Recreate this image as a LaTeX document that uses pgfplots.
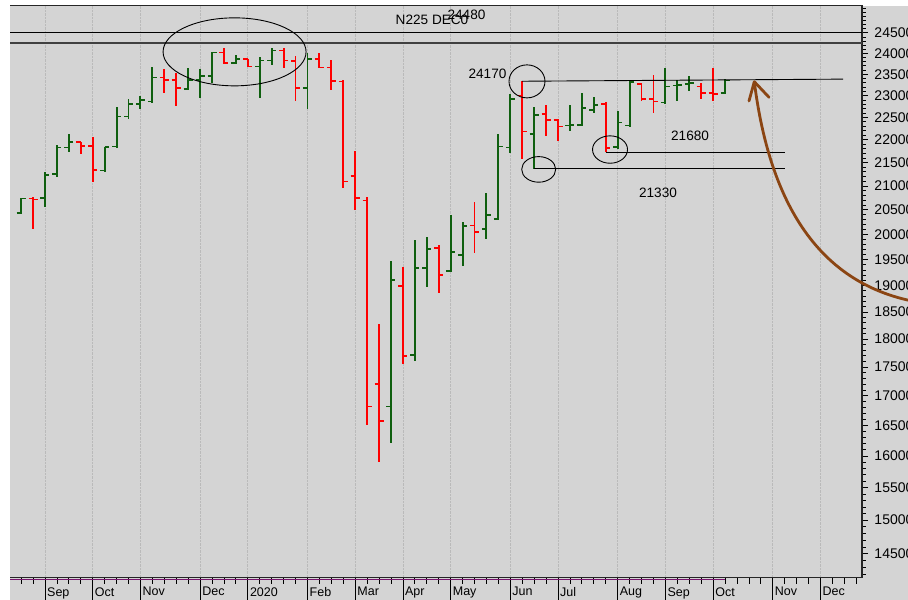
\documentclass[border=0pt]{standalone}
\usepackage{fontspec}
\setmainfont{Liberation Sans}
\usepackage{pgfplots}
\usepackage{pgfplotstable}
\pgfplotsset{compat=1.18}

\definecolor{bg}{RGB}{212,212,212}
\definecolor{barred}{RGB}{255,0,0}
\definecolor{bargreen}{RGB}{15,95,15}
\definecolor{gridc}{RGB}{186,186,186}
\definecolor{arrowbrown}{RGB}{139,69,19}
\definecolor{rail}{RGB}{120,20,110}

% open tick to the left, close tick to the right
\pgfdeclareplotmark{otick}{\pgfpathmoveto{\pgfpoint{-4.5bp}{0pt}}\pgfpathlineto{\pgfpoint{0pt}{0pt}}\pgfusepathqstroke}
\pgfdeclareplotmark{ctick}{\pgfpathmoveto{\pgfpoint{0pt}{0pt}}\pgfpathlineto{\pgfpoint{4.5bp}{0pt}}\pgfusepathqstroke}

% weekly bars, i = week index (3 = first week of Sep 2019)
\pgfplotstableread{
i O H L C
0 20520 20560 20380 20430
2 20735 20764 20112 20714
6 21947 21960 21689 21865
7 21865 22070 21093 21342
13 23422 23628 23056 23367
14 23367 23540 22770 23173
18 24019 24125 23740 23764
20 23860 23867 23668 23682
23 24067 24140 23644 23826
24 23819 23939 22878 23173
26 23867 24004 23644 23659
27 23659 23843 23133 23344
28 23327 23367 20953 21093
29 21214 21755 20500 20743
30 20693 20777 16510 16817
31 17206 18272 15906 16576
33 18995 19351 17550 17698
36 19736 19790 18862 19207
39 20178 20660 19637 20051
43 23001 23351 21587 22182
45 22581 22786 22086 22445
46 22445 22461 21975 22294
50 22803 22862 21730 21814
53 23266 23285 22885 22924
54 22918 23485 22611 22862
58 23210 23290 22918 23056
59 23056 23659 22878 23033
}\redbars

\pgfplotstableread{
i O H L C
1 20440 20745 20425 20740
3 20743 21306 20556 21235
4 21257 21887 21186 21827
5 21827 22131 21740 21947
8 21327 21849 21306 21836
9 21849 22734 21840 22520
10 22520 22918 22461 22810
11 22810 23001 22695 22902
12 22862 23682 22848 23422
15 23150 23659 23133 23367
16 23367 23620 22955 23462
17 23462 24043 23304 24019
19 23764 23963 23740 23860
21 23682 23922 22955 23826
22 23826 24125 23723 24067
25 23173 24019 22695 23867
32 16817 19480 16208 19105
34 17710 19884 17609 19343
35 19343 19944 18965 19716
37 19273 20403 19253 19651
38 19592 20248 19376 20172
40 20105 20848 19910 20397
41 20309 22131 20295 21849
42 21827 23033 21705 22918
44 22131 22747 21364 22558
47 22316 22786 22197 22332
48 22332 23056 22316 22711
49 22672 22978 22597 22786
51 21836 22656 21799 22384
52 22316 23351 22309 23313
55 22839 23644 22810 23210
56 23234 23367 22878 23250
57 23266 23469 23117 23290
60 23056 23384 23033 23351
}\greenbars

\begin{document}
\begin{tikzpicture}
\useasboundingbox (0,0) rectangle (908bp,600bp);
\fill[white] (0,0) rectangle (908bp,600bp);
\fill[bg] (10bp,0) rectangle (908bp,594bp);
\begin{axis}[
  scale only axis, width=852bp, height=572bp,
  at={(10bp,22bp)}, anchor=south west,
  ymode=log,
  xmin=0.067, xmax=71.48, ymin=14152, ymax=25175,
  clip mode=individual,
  axis line style={draw=none},
  tick align=outside,
  xtick pos=bottom, ytick pos=right, yticklabel pos=right,
  xtick={3,7,11,16,20,25,29,33,37,42,46,51,55,59,64,68},
  xticklabels={Sep,Oct,Nov,Dec,2020,Feb,Mar,Apr,May,Jun,Jul,Aug,Sep,Oct,Nov,Dec},
  minor xtick={1,...,71},
  xmajorgrids, major grid style={gridc, densely dotted, line width=0.8bp},
  xtick style={black, line width=0.8bp, /pgfplots/major tick length=22bp, /pgfplots/minor tick length=6bp},
  ytick={14500,15000,15500,16000,16500,17000,17500,18000,18500,19000,19500,20000,20500,21000,21500,22000,22500,23000,23500,24000,24500},
  yticklabels={14500,15000,15500,16000,16500,17000,17500,18000,18500,19000,19500,20000,20500,21000,21500,22000,22500,23000,23500,24000,24500},
  minor ytick={14200,14300,14400,14500,14600,14700,14800,14900,15000,15100,15200,15300,15400,15500,15600,15700,15800,15900,16000,16100,16200,16300,16400,16500,16600,16700,16800,16900,17000,17100,17200,17300,17400,17500,17600,17700,17800,17900,18000,18100,18200,18300,18400,18500,18600,18700,18800,18900,19000,19100,19200,19300,19400,19500,19600,19700,19800,19900,20000,20100,20200,20300,20400,20500,20600,20700,20800,20900,21000,21100,21200,21300,21400,21500,21600,21700,21800,21900,22000,22100,22200,22300,22400,22500,22600,22700,22800,22900,23000,23100,23200,23300,23400,23500,23600,23700,23800,23900,24000,24100,24200,24300,24400,24500,24600,24700,24800,24900,25000,25100},
  ytick style={black, line width=0.8bp, /pgfplots/major tick length=6bp, /pgfplots/minor tick length=3.5bp},
  xticklabel style={font=\fontsize{12.5bp}{14bp}\selectfont, anchor=north west, inner sep=0pt, xshift=2bp, yshift=-5bp},
  yticklabel style={font=\fontsize{14bp}{16bp}\selectfont, anchor=west, inner sep=0pt, xshift=8bp},
]
% high-low line with open tick, then close tick
\addplot[only marks, mark=otick, mark options={line width=1.6bp, barred},
  error bars/.cd, y dir=both, y explicit, error mark=none,
  error bar style={line width=1.9bp, barred}]
  table[x=i, y=O, y error plus expr=\thisrow{H}-\thisrow{O}, y error minus expr=\thisrow{O}-\thisrow{L}] {\redbars};
\addplot[only marks, mark=ctick, mark options={line width=1.6bp, barred}]
  table[x=i, y=C] {\redbars};
\addplot[only marks, mark=otick, mark options={line width=1.6bp, bargreen},
  error bars/.cd, y dir=both, y explicit, error mark=none,
  error bar style={line width=1.9bp, bargreen}]
  table[x=i, y=O, y error plus expr=\thisrow{H}-\thisrow{O}, y error minus expr=\thisrow{O}-\thisrow{L}] {\greenbars};
\addplot[only marks, mark=ctick, mark options={line width=1.6bp, bargreen}]
  table[x=i, y=C] {\greenbars};

% frame: top, right, bottom
\draw[black!85, line width=1.2bp] (rel axis cs:0,1) -- (rel axis cs:1,1) -- (rel axis cs:1,0) -- (rel axis cs:0,0);
\draw[rail, line width=1.2bp] ([yshift=-1.6bp]axis cs:0.067,14152) -- ([yshift=-1.6bp]axis cs:60,14152);

% annotations
\draw[black, line width=1bp] (axis cs:0.067,24510) -- (axis cs:71.48,24510);
\draw[black!75, line width=1.4bp] (axis cs:0.067,24247) -- (axis cs:71.48,24247);
\draw[black, line width=0.9bp] (axis cs:43,23335) -- (axis cs:69.9,23385);
\draw[black, line width=0.9bp] (axis cs:44,21364) -- (axis cs:65,21364);
\draw[black, line width=0.9bp] (axis cs:50,21730) -- (axis cs:65,21730);
\draw[black, line width=0.9bp] (axis cs:18.89,24036) ellipse [x radius=71.5bp, y radius=34bp];
\draw[black, line width=0.9bp] (axis cs:43.4,23332) ellipse [x radius=18bp, y radius=16.5bp];
\draw[black, line width=0.9bp] (axis cs:44.38,21353) ellipse [x radius=17bp, y radius=12.8bp];
\draw[black, line width=0.9bp] (axis cs:50.36,21784) ellipse [x radius=17.5bp, y radius=13.7bp];
\begin{scope}[every node/.style={font=\fontsize{13.6bp}{15bp}\selectfont, inner sep=0pt}]
\node at (axis cs:35.44,24823) {N225 DEC0};
\node at (axis cs:38.33,24948) {24480};
\node at (axis cs:40.09,23509) {24170};
\node at (axis cs:57.07,22093) {21680};
\node at (axis cs:54.38,20848) {21330};
\end{scope}
\end{axis}
% hand-drawn brown arrow
\draw[arrowbrown, line width=2.8bp] (754.3bp,518.3bp) .. controls (768bp,410bp) and (810bp,320bp) .. (912bp,299bp);
\draw[arrowbrown, line width=2.8bp, line cap=round, line join=round] (749bp,499bp) -- (754.3bp,518.3bp) -- (769bp,502.7bp);
\end{tikzpicture}
\end{document}
